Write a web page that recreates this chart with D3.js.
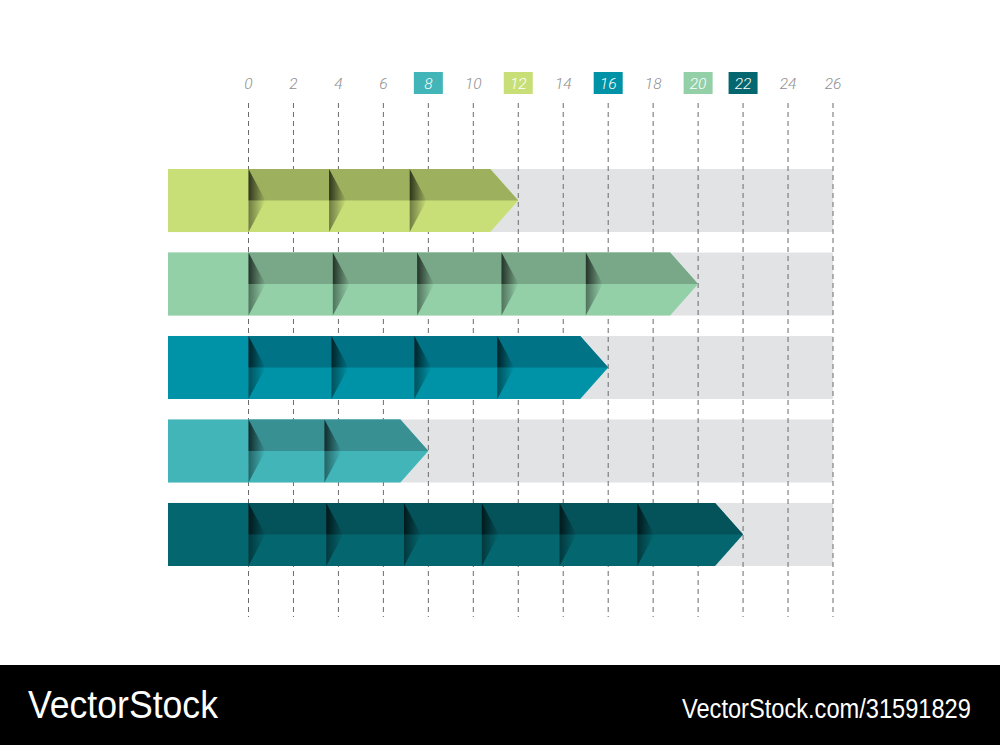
<!DOCTYPE html>
<html>
<head>
<meta charset="utf-8">
<script src="https://cdnjs.cloudflare.com/ajax/libs/d3/7.8.5/d3.min.js"></script>
<style>
  body { margin: 0; background: #fff; }
</style>
</head>
<body>
<svg id="chart" width="1000" height="745"></svg>
<script>
  // data
  const rows = ['A', 'B', 'C', 'D', 'E'];
  const values = [12, 20, 16, 8, 22];
  const tickValues = d3.range(0, 27, 2);
  const mainColors = ['#c8df78', '#93d0a8', '#0092a6', '#42b5b8', '#04666e'];
  const darkColors = ['#9db05e', '#78a888', '#007386', '#389093', '#04525a'];

  const svg = d3.select('#chart');

  const x = d3.scaleLinear().domain([0, 26]).range([248.5, 833]);
  const y = d3.scaleBand().domain(rows).range([169, 566]).paddingInner(0.245);
  const trackLeft = 168;
  const tipLen = 28;
  const segTarget = 80;

  // gradients for the notch shadows
  const defs = svg.append('defs');
  [['shadeTop', 0.7], ['shadeBot', 0.45]].forEach(([id, op]) => {
    const g = defs.append('linearGradient').attr('id', id)
      .attr('x1', 0).attr('x2', 1).attr('y1', 0).attr('y2', 0);
    g.append('stop').attr('offset', 0).attr('stop-color', '#000').attr('stop-opacity', op);
    g.append('stop').attr('offset', 1).attr('stop-color', '#000').attr('stop-opacity', 0);
  });

  // gray tracks
  svg.append('g').selectAll('rect')
    .data(rows)
    .join('rect')
    .attr('x', trackLeft)
    .attr('y', d => y(d))
    .attr('width', x(26) - trackLeft)
    .attr('height', y.bandwidth())
    .attr('fill', '#e2e3e5');

  // dashed grid
  svg.append('g').selectAll('line')
    .data(tickValues)
    .join('line')
    .attr('x1', d => x(d)).attr('x2', d => x(d))
    .attr('y1', 103).attr('y2', 617)
    .attr('stroke', '#6b6b6b')
    .attr('stroke-width', 1)
    .attr('stroke-dasharray', '5,4');

  // tick labels, highlighted ones get a box
  const highlight = {};
  values.forEach((v, i) => highlight[v] = mainColors[i]);

  const ticks = svg.append('g').selectAll('g')
    .data(tickValues)
    .join('g')
    .attr('transform', d => `translate(${x(d)},83)`);

  ticks.filter(d => highlight[d])
    .append('rect')
    .attr('x', -14.5).attr('y', -11)
    .attr('width', 29).attr('height', 22)
    .attr('fill', d => highlight[d]);

  ticks.append('text')
    .text(d => d)
    .attr('text-anchor', 'middle')
    .attr('dy', '0.36em')
    .attr('font-family', 'Roboto, "Open Sans", sans-serif')
    .attr('font-style', 'italic')
    .attr('font-weight', 300)
    .attr('font-size', 15.5)
    .attr('fill', d => highlight[d] ? '#fff' : '#8f8f8f');

  // bars
  const bars = svg.append('g').selectAll('g')
    .data(rows.map((r, i) => ({ r, v: values[i], c: mainColors[i], dk: darkColors[i] })))
    .join('g')
    .attr('transform', d => `translate(0,${y(d.r)})`);

  const h = y.bandwidth();
  const mid = h / 2;

  bars.each(function (d) {
    const g = d3.select(this);
    const x0 = x(0);
    const tip = x(d.v);
    const bodyEnd = tip - tipLen;
    const n = Math.max(1, Math.round((bodyEnd - x0) / segTarget));
    const segW = (bodyEnd - x0) / n;

    // left square
    g.append('rect').attr('x', trackLeft).attr('y', 0)
      .attr('width', x0 - trackLeft + 0.5).attr('height', h).attr('fill', d.c);

    // whole arrow in main colour
    g.append('path')
      .attr('d', `M${x0},0L${bodyEnd},0L${tip},${mid}L${bodyEnd},${h}L${x0},${h}Z`)
      .attr('fill', d.c);
    // top half in the dark colour
    g.append('path')
      .attr('d', `M${x0},0L${bodyEnd},0L${tip},${mid}L${x0},${mid}Z`)
      .attr('fill', d.dk);

    // notch shadows at each segment start
    const starts = d3.range(n).map(k => x0 + k * segW);
    g.selectAll('path.top')
      .data(starts)
      .join('path')
      .attr('class', 'top')
      .attr('d', s => `M${s},0L${s + 17},${mid}L${s},${mid}Z`)
      .attr('fill', 'url(#shadeTop)');
    g.selectAll('path.bot')
      .data(starts)
      .join('path')
      .attr('class', 'bot')
      .attr('d', s => `M${s},${mid}L${s + 17},${mid}L${s},${h}Z`)
      .attr('fill', 'url(#shadeBot)');
  });

  // footer band, text squeezed horizontally to the reference width
  svg.append('rect').attr('x', 0).attr('y', 665).attr('width', 1000).attr('height', 80).attr('fill', '#000');

  function footerText(str, left, width, size) {
    const t = svg.append('text')
      .attr('font-family', '"Liberation Sans", Arial, sans-serif')
      .attr('font-size', size)
      .attr('fill', '#fff')
      .text(str);
    const natural = t.node().getComputedTextLength();
    t.attr('transform', `translate(${left},718) scale(${width / natural},1)`);
  }
  footerText('VectorStock', 28, 190, 38);
  footerText('VectorStock.com/31591829', 682, 289, 27);
</script>
</body>
</html>
